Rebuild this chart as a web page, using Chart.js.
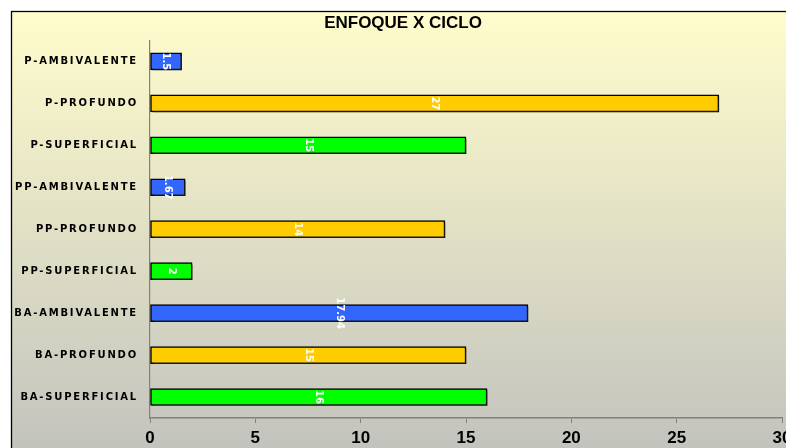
<!DOCTYPE html>
<html>
<head>
<meta charset="utf-8">
<title>Enfoque x Ciclo</title>
<script src="https://cdn.jsdelivr.net/npm/chart.js@4.4.1/dist/chart.umd.min.js"></script>
<style>
  html, body { margin: 0; padding: 0; background: #fff; overflow: hidden; }
  #wrap { width: 786px; height: 448px; overflow: hidden; }
</style>
</head>
<body>
<div id="wrap"><canvas id="grafico" width="820" height="470"></canvas></div>
<script>
// datos
const categorias = ['P-AMBIVALENTE', 'P-PROFUNDO', 'P-SUPERFICIAL',
                    'PP-AMBIVALENTE', 'PP-PROFUNDO', 'PP-SUPERFICIAL',
                    'BA-AMBIVALENTE', 'BA-PROFUNDO', 'BA-SUPERFICIAL'];
const valores = [1.5, 27, 15, 1.67, 14, 2, 17.94, 15, 16];
const colores = ['#3366FF', '#FFCC00', '#00FF00',
                 '#3366FF', '#FFCC00', '#00FF00',
                 '#3366FF', '#FFCC00', '#00FF00'];
const ticksX = [0, 5, 10, 15, 20, 25, 30];

// fondo degradado con marco
const fondo = {
    id: 'fondo',
    beforeDraw(chart) {
        const { ctx, width, height } = chart;
        ctx.save();
        ctx.fillStyle = '#fff';
        ctx.fillRect(0, 0, width, height);
        const g = ctx.createLinearGradient(0, 11, 0, 448);
        g.addColorStop(0, '#FFFDCC');
        g.addColorStop(1, '#C3C3BE');
        ctx.fillStyle = g;
        ctx.fillRect(11, 11, width, height);
        ctx.strokeStyle = '#000';
        ctx.lineWidth = 1.3;
        ctx.strokeRect(11.5, 11.5, width, height);
        ctx.restore();

        // etiquetas del eje Y espaciadas
        const y = chart.scales.y;
        if (y && !y._espaciado) {
            const original = y.drawLabels;
            y.drawLabels = function (area) {
                this.ctx.save();
                this.ctx.letterSpacing = '1.8px';
                original.call(this, area);
                this.ctx.restore();
            };
            y._espaciado = true;
        }

        // titulo centrado sobre el marco visible
        const t = chart.titleBlock;
        if (t && !t._movido) {
            const dibujar = t.draw;
            t.draw = function () {
                this.ctx.save();
                this.ctx.translate(12, 0);
                dibujar.call(this);
                this.ctx.restore();
            };
            t._movido = true;
        }
    }
};

// sombra de las barras y valores rotados
const barras = {
    id: 'barras',
    beforeDatasetsDraw(chart) {
        const ctx = chart.ctx;
        ctx.save();
        ctx.shadowColor = 'rgba(40,40,40,0.55)';
        ctx.shadowOffsetX = 2;
        ctx.shadowOffsetY = 2;
        ctx.shadowBlur = 0;
    },
    afterDatasetsDraw(chart) {
        const ctx = chart.ctx;
        ctx.restore();
        const meta = chart.getDatasetMeta(0);
        ctx.save();
        ctx.fillStyle = '#fff';
        ctx.font = 'bold 10px "DejaVu Sans"';
        ctx.textAlign = 'center';
        ctx.textBaseline = 'middle';
        meta.data.forEach((bar, i) => {
            const cx = (bar.x + bar.base) / 2;
            ctx.save();
            ctx.translate(cx, bar.y);
            ctx.rotate(Math.PI / 2);
            ctx.fillText(String(valores[i]), 0, 0);
            ctx.restore();
        });
        ctx.restore();
    }
};

new Chart(document.getElementById('grafico'), {
    type: 'bar',
    data: {
        labels: categorias,
        datasets: [{
            data: valores,
            backgroundColor: colores,
            borderColor: '#000',
            borderWidth: 1.5,
            borderSkipped: false,
            barThickness: 17
        }]
    },
    options: {
        indexAxis: 'y',
        responsive: false,
        animation: false,
        layout: { padding: { left: 0, right: 38, top: 0, bottom: 0 } },
        plugins: {
            legend: { display: false },
            tooltip: { enabled: false },
            title: {
                display: true,
                text: 'ENFOQUE X CICLO',
                color: '#000',
                font: { family: 'Liberation Sans', size: 17, weight: 'bold' },
                padding: { top: 13, bottom: 7 }
            }
        },
        scales: {
            x: {
                min: 0,
                max: 30,
                afterBuildTicks(s) { s.ticks = ticksX.map(v => ({ value: v })); },
                afterFit(s) { s.height = 52; },
                grid: { drawOnChartArea: false, drawTicks: true, tickLength: 5, color: '#808080' },
                border: { color: '#808080', width: 1.5 },
                ticks: {
                    color: '#000',
                    padding: 5,
                    font: { family: 'Liberation Sans', size: 17, weight: 'bold' }
                }
            },
            y: {
                afterFit(s) { s.width = 150; },
                grid: { display: true, drawOnChartArea: false, drawTicks: false },
                border: { color: '#808080', width: 1.2 },
                ticks: {
                    color: '#000',
                    padding: 12,
                    font: { family: 'DejaVu Sans', size: 10, weight: 'bold' }
                }
            }
        }
    },
    plugins: [fondo, barras]
});
</script>
</body>
</html>
